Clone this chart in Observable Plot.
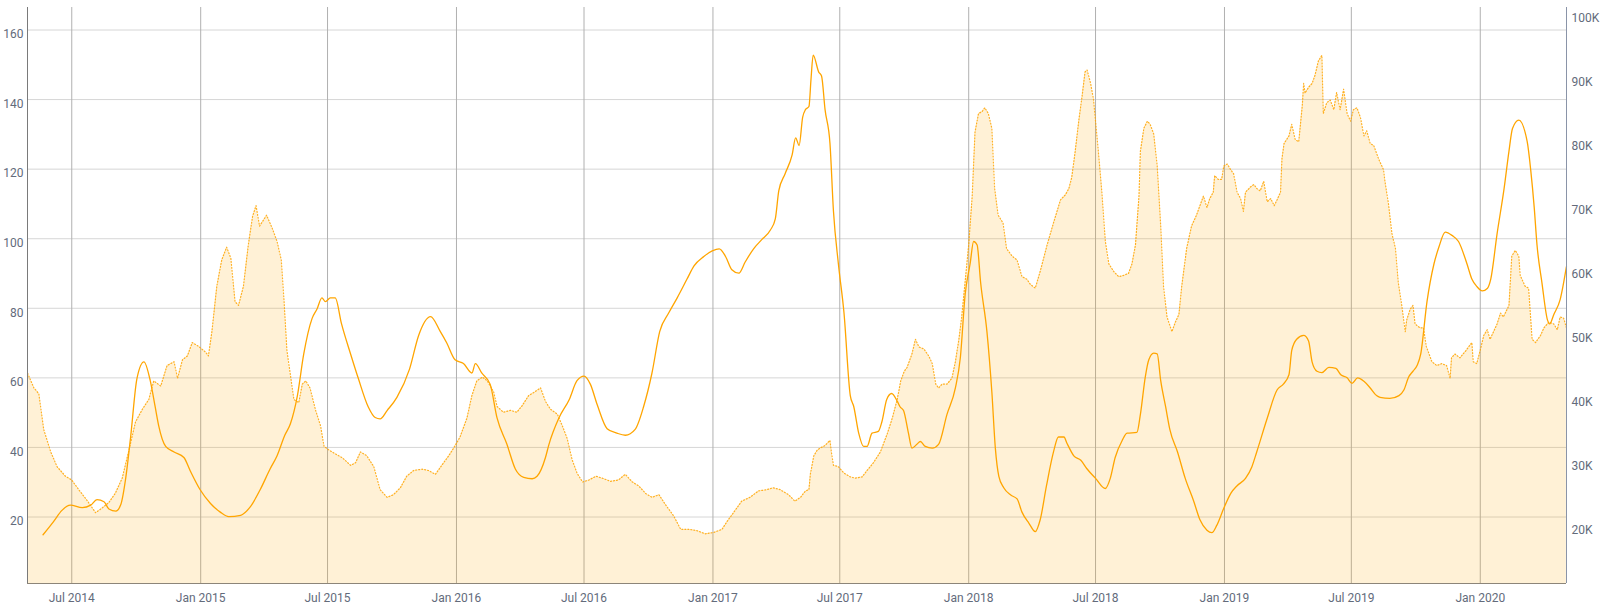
<!DOCTYPE html>
<html><head><meta charset="utf-8">
<script src="https://cdn.jsdelivr.net/npm/d3@7"></script>
<script src="https://cdn.jsdelivr.net/npm/@observablehq/plot@0.6"></script>
<style>html,body{margin:0;padding:0;background:#fff;} #chart svg{display:block}</style>
</head><body><div id="chart"></div>
<script>
// Solid line, left axis
const solidLine = [
["2014-05-21",14.9],["2014-06-05",18.7],["2014-06-17",21.9],["2014-06-29",23.4],["2014-07-16",22.7],["2014-07-28",23.4],
["2014-08-06",25.0],["2014-08-16",24.4],["2014-08-23",22.3],["2014-09-02",21.7],["2014-09-09",23.6],["2014-09-16",31.2],
["2014-09-23",43.0],["2014-10-02",59.8],["2014-10-12",64.6],["2014-10-21",59.2],["2014-10-28",51.7],["2014-11-02",46.3],
["2014-11-12",40.3],["2014-11-24",38.7],["2014-12-08",37.1],["2014-12-17",33.3],["2014-12-31",27.9],["2015-01-15",23.9],
["2015-01-29",21.4],["2015-02-10",20.1],["2015-02-27",20.5],["2015-03-13",23.0],["2015-03-27",27.9],["2015-04-10",33.8],
["2015-04-20",37.6],["2015-05-01",43.5],["2015-05-09",46.8],["2015-05-19",54.9],["2015-05-28",66.8],["2015-06-09",77.1],
["2015-06-16",79.8],["2015-06-23",83.0],["2015-06-28",81.9],["2015-07-05",83.0],["2015-07-12",83.0],["2015-07-21",75.5],
["2015-08-03",66.8],["2015-08-14",59.8],["2015-08-28",51.7],["2015-09-07",48.6],["2015-09-14",48.2],["2015-09-24",50.6],
["2015-10-08",54.4],["2015-10-26",62.5],["2015-11-08",72.2],["2015-11-25",77.6],["2015-12-09",73.3],["2015-12-18",70.1],
["2015-12-30",65.2],["2016-01-11",64.1],["2016-01-23",61.4],["2016-01-28",64.1],["2016-02-06",61.4],["2016-02-18",58.2],
["2016-02-28",48.4],["2016-03-13",40.9],["2016-03-25",33.8],["2016-04-06",31.4],["2016-04-18",31.0],["2016-04-25",31.7],
["2016-05-07",37.1],["2016-05-12",40.9],["2016-05-26",48.4],["2016-06-10",53.8],["2016-06-21",59.2],["2016-07-01",60.5],
["2016-07-10",58.2],["2016-07-20",52.2],["2016-08-03",45.4],["2016-08-17",44.1],["2016-08-29",43.5],["2016-09-12",45.2],
["2016-09-24",51.7],["2016-10-06",61.4],["2016-10-17",73.3],["2016-10-30",78.7],["2016-11-11",83.0],["2016-11-25",88.4],
["2016-12-05",92.2],["2016-12-19",94.9],["2016-12-31",96.5],["2017-01-10",97.1],["2017-01-19",94.9],["2017-01-28",91.1],
["2017-02-07",90.1],["2017-02-16",93.3],["2017-02-28",97.1],["2017-03-12",99.8],["2017-03-24",102.5],["2017-03-31",105.7],
["2017-04-05",113.8],["2017-04-14",118.7],["2017-04-24",124.1],["2017-04-29",129.0],["2017-05-04",126.8],["2017-05-09",134.9],
["2017-05-13",137.1],["2017-05-18",138.0],["2017-05-21",146.0],["2017-05-24",152.8],["2017-06-01",147.9],["2017-06-05",146.8],
["2017-06-10",137.1],["2017-06-17",127.4],["2017-06-22",107.9],["2017-06-29",92.8],["2017-07-07",78.7],["2017-07-16",54.9],
["2017-07-21",51.7],["2017-07-28",44.1],["2017-08-04",40.3],["2017-08-09",40.3],["2017-08-16",44.1],["2017-08-25",44.6],
["2017-08-30",47.3],["2017-09-06",53.8],["2017-09-13",55.5],["2017-09-21",53.3],["2017-09-25",51.7],["2017-09-30",50.6],
["2017-10-07",44.1],["2017-10-12",39.8],["2017-10-19",40.9],["2017-10-24",41.7],["2017-10-31",40.3],["2017-11-10",39.8],
["2017-11-19",40.9],["2017-12-01",49.5],["2017-12-13",57.1],["2017-12-20",65.7],["2017-12-27",84.1],["2018-01-03",92.8],
["2018-01-08",99.2],["2018-01-13",98.2],["2018-01-18",87.4],["2018-01-27",73.3],["2018-02-03",56.0],["2018-02-08",39.8],
["2018-02-13",31.7],["2018-02-20",28.4],["2018-03-02",26.3],["2018-03-11",25.2],["2018-03-18",21.4],["2018-03-28",18.2],
["2018-04-06",15.8],["2018-04-13",19.2],["2018-04-22",29.0],["2018-05-02",38.7],["2018-05-09",43.0],["2018-05-17",43.0],
["2018-05-21",41.3],["2018-05-31",37.6],["2018-06-10",36.3],["2018-06-19",33.8],["2018-07-01",31.1],["2018-07-15",28.2],
["2018-07-22",31.1],["2018-07-29",37.1],["2018-08-08",42.0],["2018-08-15",44.1],["2018-08-29",44.3],["2018-09-03",49.5],
["2018-09-10",60.3],["2018-09-15",65.2],["2018-09-22",67.1],["2018-09-27",66.9],["2018-10-02",59.2],["2018-10-09",51.7],
["2018-10-15",45.2],["2018-10-26",38.7],["2018-11-06",31.1],["2018-11-18",24.6],["2018-11-27",19.2],["2018-12-07",16.2],
["2018-12-14",15.5],["2018-12-21",17.6],["2018-12-31",22.5],["2019-01-10",26.8],["2019-01-19",29.0],["2019-01-31",31.1],
["2019-02-09",34.4],["2019-02-16",38.7],["2019-03-03",48.4],["2019-03-17",56.5],["2019-03-26",58.2],["2019-04-03",60.9],
["2019-04-07",67.9],["2019-04-14",71.1],["2019-04-24",72.2],["2019-05-01",70.6],["2019-05-06",64.6],["2019-05-13",61.9],
["2019-05-20",61.5],["2019-05-30",63.0],["2019-06-09",62.7],["2019-06-16",60.9],["2019-06-25",60.0],["2019-07-02",58.4],
["2019-07-10",60.0],["2019-07-19",59.0],["2019-07-28",57.1],["2019-08-06",54.9],["2019-08-11",54.4],["2019-08-25",54.1],
["2019-09-07",54.9],["2019-09-14",56.5],["2019-09-21",60.3],["2019-09-27",61.9],["2019-10-03",63.6],["2019-10-08",66.8],
["2019-10-17",81.9],["2019-10-27",92.8],["2019-11-03",97.6],["2019-11-12",101.9],["2019-11-22",100.9],["2019-12-01",99.2],
["2019-12-13",92.8],["2019-12-20",88.4],["2019-12-27",86.3],["2020-01-04",85.0],["2020-01-11",85.7],["2020-01-16",88.4],
["2020-01-25",101.4],["2020-02-04",114.4],["2020-02-11",125.2],["2020-02-16",131.7],["2020-02-25",134.1],["2020-03-08",127.9],
["2020-03-13",119.8],["2020-03-18",109.0],["2020-03-22",98.2],["2020-03-29",87.4],["2020-04-06",76.6],["2020-04-09",75.5],
["2020-04-15",78.2],["2020-04-24",82.5],["2020-05-03",92.0]
];

// Dotted filled area, right axis (thousands)
const dottedArea = [
["2014-04-29",43.8],["2014-05-08",41.5],["2014-05-15",40.6],["2014-05-22",35.0],["2014-06-01",31.5],["2014-06-10",29.2],
["2014-06-22",27.7],["2014-07-01",27.1],["2014-07-11",25.6],["2014-07-23",23.9],["2014-08-04",22.0],["2014-08-13",22.7],
["2014-08-23",23.6],["2014-09-01",25.0],["2014-09-11",27.4],["2014-09-20",31.5],["2014-09-30",36.2],["2014-10-10",38.2],
["2014-10-19",39.7],["2014-10-26",42.6],["2014-11-05",41.8],["2014-11-14",45.0],["2014-11-24",45.6],["2014-11-29",43.0],
["2014-12-06",45.9],["2014-12-13",46.5],["2014-12-20",48.6],["2014-12-29",48.0],["2015-01-08",47.1],["2015-01-12",46.5],
["2015-01-17",50.3],["2015-01-24",57.4],["2015-01-31",61.5],["2015-02-07",63.5],["2015-02-13",61.8],["2015-02-19",55.0],
["2015-02-24",54.4],["2015-03-03",57.4],["2015-03-10",63.9],["2015-03-16",68.3],["2015-03-21",70.0],["2015-03-26",66.8],
["2015-04-05",68.5],["2015-04-13",66.5],["2015-04-20",64.4],["2015-04-26",61.5],["2015-04-30",55.0],["2015-05-04",47.4],
["2015-05-14",39.7],["2015-05-21",39.2],["2015-05-26",42.1],["2015-05-31",42.6],["2015-06-06",41.5],["2015-06-14",38.0],
["2015-06-21",35.6],["2015-06-26",32.4],["2015-07-03",31.8],["2015-07-12",31.2],["2015-07-22",30.6],["2015-08-03",29.4],
["2015-08-10",29.8],["2015-08-17",31.5],["2015-08-26",30.9],["2015-09-05",29.2],["2015-09-14",25.6],["2015-09-24",24.4],
["2015-10-03",24.8],["2015-10-13",25.9],["2015-10-22",27.7],["2015-11-01",28.6],["2015-11-13",28.8],["2015-11-22",28.6],
["2015-12-02",28.0],["2015-12-11",29.4],["2015-12-21",30.9],["2015-12-28",32.1],["2016-01-06",33.8],["2016-01-16",36.8],
["2016-01-23",40.3],["2016-01-30",42.6],["2016-02-07",43.2],["2016-02-14",42.6],["2016-02-23",40.9],["2016-02-28",38.6],
["2016-03-08",37.7],["2016-03-18",38.0],["2016-03-27",37.7],["2016-04-03",38.6],["2016-04-13",40.3],["2016-04-22",40.9],
["2016-04-30",41.5],["2016-05-07",39.4],["2016-05-14",38.2],["2016-05-24",37.4],["2016-05-31",35.6],["2016-06-07",33.6],
["2016-06-14",30.3],["2016-06-21",28.2],["2016-06-29",26.8],["2016-07-08",27.1],["2016-07-18",27.7],["2016-07-27",27.4],
["2016-08-08",26.9],["2016-08-19",27.1],["2016-08-29",28.0],["2016-09-08",26.8],["2016-09-17",26.2],["2016-09-27",25.0],
["2016-10-06",24.4],["2016-10-16",24.8],["2016-10-25",23.3],["2016-11-06",21.5],["2016-11-16",19.4],["2016-11-28",19.4],
["2016-12-09",19.2],["2016-12-21",18.7],["2017-01-02",18.9],["2017-01-14",19.4],["2017-01-21",20.6],["2017-01-31",22.1],
["2017-02-11",23.8],["2017-02-23",24.4],["2017-03-07",25.4],["2017-03-19",25.6],["2017-03-28",25.9],["2017-04-07",25.6],
["2017-04-19",24.8],["2017-04-28",23.8],["2017-05-06",24.4],["2017-05-13",25.4],["2017-05-18",25.6],["2017-05-20",28.0],
["2017-05-25",30.9],["2017-05-30",31.8],["2017-06-03",32.1],["2017-06-10",32.5],["2017-06-17",33.3],["2017-06-19",31.5],
["2017-06-22",29.4],["2017-06-29",29.2],["2017-07-07",28.2],["2017-07-16",27.6],["2017-07-23",27.4],["2017-08-02",27.6],
["2017-08-09",28.6],["2017-08-18",29.8],["2017-08-28",31.5],["2017-09-07",34.4],["2017-09-14",36.8],["2017-09-21",39.7],
["2017-09-26",42.6],["2017-10-01",44.1],["2017-10-05",44.7],["2017-10-12",46.8],["2017-10-17",49.1],["2017-10-22",47.9],
["2017-10-29",47.6],["2017-11-05",46.5],["2017-11-10",45.3],["2017-11-15",42.1],["2017-11-19",41.5],["2017-11-24",42.1],
["2017-12-01",42.1],["2017-12-08",43.0],["2017-12-13",45.6],["2017-12-18",49.1],["2017-12-22",52.6],["2017-12-27",58.2],
["2018-01-01",63.9],["2018-01-06",71.5],["2018-01-10",81.5],["2018-01-15",84.4],["2018-01-20",84.7],["2018-01-24",85.3],
["2018-01-29",84.4],["2018-02-03",82.1],["2018-02-05",77.3],["2018-02-07",72.7],["2018-02-12",68.5],["2018-02-19",67.3],
["2018-02-24",63.3],["2018-03-04",62.1],["2018-03-11",61.5],["2018-03-18",58.9],["2018-03-25",58.5],["2018-03-30",57.7],
["2018-04-06",57.1],["2018-04-13",59.7],["2018-04-23",63.9],["2018-05-02",67.3],["2018-05-12",70.9],["2018-05-19",71.7],
["2018-05-24",72.7],["2018-05-28",74.4],["2018-06-02",78.5],["2018-06-07",83.2],["2018-06-12",87.3],["2018-06-16",90.9],
["2018-06-19",91.2],["2018-06-24",89.1],["2018-06-28",86.7],["2018-07-01",83.2],["2018-07-05",78.5],["2018-07-10",72.1],
["2018-07-15",64.4],["2018-07-20",60.9],["2018-07-27",59.7],["2018-08-03",58.9],["2018-08-10",59.1],["2018-08-17",59.4],
["2018-08-22",60.9],["2018-08-27",63.9],["2018-09-01",71.5],["2018-09-03",78.5],["2018-09-08",82.1],["2018-09-13",83.2],
["2018-09-17",82.7],["2018-09-22",81.2],["2018-09-27",76.2],["2018-10-02",66.8],["2018-10-06",57.4],["2018-10-11",52.6],
["2018-10-18",50.3],["2018-10-23",51.8],["2018-10-28",53.0],["2018-11-01",57.4],["2018-11-08",63.3],["2018-11-15",66.8],
["2018-11-22",68.5],["2018-11-27",70.0],["2018-12-02",71.5],["2018-12-07",69.7],["2018-12-11",71.1],["2018-12-16",72.1],
["2018-12-18",74.7],["2018-12-23",74.1],["2018-12-28",74.1],["2018-12-31",76.2],["2019-01-05",76.5],["2019-01-10",75.6],
["2019-01-14",75.0],["2019-01-19",72.1],["2019-01-24",71.1],["2019-01-28",69.1],["2019-01-31",72.1],["2019-02-07",72.9],
["2019-02-12",73.3],["2019-02-16",72.7],["2019-02-21",72.3],["2019-02-26",73.8],["2019-03-03",70.6],["2019-03-08",71.1],
["2019-03-13",70.0],["2019-03-17",70.9],["2019-03-22",72.1],["2019-03-24",77.3],["2019-03-27",79.7],["2019-04-03",80.9],
["2019-04-07",82.7],["2019-04-12",80.3],["2019-04-17",80.0],["2019-04-22",85.6],["2019-04-24",89.1],["2019-04-26",87.6],
["2019-05-01",88.5],["2019-05-06",89.1],["2019-05-10",90.3],["2019-05-15",92.6],["2019-05-20",93.5],["2019-05-22",84.4],
["2019-05-27",86.1],["2019-06-01",86.5],["2019-06-06",85.0],["2019-06-10",87.7],["2019-06-15",85.0],["2019-06-20",88.2],
["2019-06-25",84.4],["2019-06-30",83.2],["2019-07-04",85.0],["2019-07-09",85.3],["2019-07-14",83.8],["2019-07-19",80.9],
["2019-07-23",81.7],["2019-07-28",79.7],["2019-08-02",79.4],["2019-08-09",77.3],["2019-08-16",75.6],["2019-08-18",73.8],
["2019-08-23",70.3],["2019-08-28",65.6],["2019-09-02",63.3],["2019-09-06",58.0],["2019-09-11",54.4],["2019-09-16",50.3],
["2019-09-18",52.1],["2019-09-23",53.8],["2019-09-27",54.4],["2019-09-30",51.5],["2019-10-07",50.9],["2019-10-12",50.9],
["2019-10-16",48.0],["2019-10-24",45.6],["2019-10-31",45.0],["2019-11-07",45.3],["2019-11-14",45.0],["2019-11-19",43.0],
["2019-11-21",46.2],["2019-11-26",46.8],["2019-12-03",46.2],["2019-12-12",47.4],["2019-12-20",48.6],["2019-12-22",45.6],
["2019-12-27",45.3],["2020-01-01",47.4],["2020-01-06",49.7],["2020-01-11",50.6],["2020-01-15",49.1],["2020-01-20",50.3],
["2020-01-25",51.5],["2020-01-30",53.2],["2020-02-03",52.6],["2020-02-11",54.4],["2020-02-15",62.1],["2020-02-20",63.0],
["2020-02-25",62.1],["2020-02-27",59.1],["2020-03-05",57.4],["2020-03-10",57.1],["2020-03-15",49.1],["2020-03-20",48.6],
["2020-03-27",49.7],["2020-04-01",50.9],["2020-04-08",51.8],["2020-04-15",51.5],["2020-04-20",50.6],["2020-04-24",52.6],
["2020-04-29",52.4],["2020-05-03",50.9]
];

const leftTicks = [20, 40, 60, 80, 100, 120, 140, 160];
const rightTicks = [20, 30, 40, 50, 60, 70, 80, 90, 100];
const xTickLabels = ["2014-07-01","2015-01-01","2015-07-01","2016-01-01","2016-07-01","2017-01-01","2017-07-01",
  "2018-01-01","2018-07-01","2019-01-01","2019-07-01","2020-01-01"];

const parse = d3.utcParse("%Y-%m-%d");
const xDomain = [new Date(Date.UTC(2014, 3, 28, 20)), new Date(Date.UTC(2020, 4, 3, 2))];
const yDomain = [0.885, 166.47];
// right axis (K) expressed in left-axis units
const kToLeft = k => (k - 10.45) / 0.5438;
const leftToK = v => v * 0.5438 + 10.45;

const lineData = solidLine.map(([d, v]) => ({date: parse(d), v}));
const areaData = dottedArea.map(([d, k]) => ({date: parse(d), k, y: kToLeft(k)}));
const xTicks = xTickLabels.map(parse);
const fmt = d3.utcFormat("%b %Y");
const labelColor = "#636b7b";

const chart = Plot.plot({
  width: 1600, height: 607,
  marginLeft: 27, marginRight: 34, marginTop: 7, marginBottom: 24,
  style: {fontFamily: "Roboto, sans-serif", fontSize: "12px", background: "#fff", overflow: "visible"},
  x: {type: "utc", domain: xDomain},
  y: {domain: yDomain},
  marks: [
    Plot.gridY(leftTicks, {stroke: "#d6d6d6", strokeOpacity: 1}),
    Plot.gridX(xTicks, {stroke: "#b0b0b0", strokeOpacity: 1}),
    Plot.areaY(areaData, {x: "date", y1: () => yDomain[0], y2: "y", fill: "#ffa500", fillOpacity: 0.16}),
    Plot.lineY(areaData, {x: "date", y: "y", stroke: "#ffa500", strokeWidth: 1.2, strokeOpacity: 0.85, strokeDasharray: "1,2"}),
    Plot.lineY(lineData, {x: "date", y: "v", stroke: "#ffa500", strokeWidth: 1.3, curve: "monotone-x"}),
    Plot.ruleX([xDomain[0]], {stroke: "#7a7a7a"}),
    Plot.ruleX([xDomain[1]], {stroke: "#8a94a8"}),
    Plot.ruleY([yDomain[0]], {stroke: "#8c8579"}),
    Plot.axisY(leftTicks, {anchor: "left", tickSize: 0, tickPadding: 4, dy: 4.5, fill: labelColor, label: null}),
    Plot.axisY(rightTicks.map(kToLeft), {anchor: "right", tickSize: 0, tickPadding: 5, dy: 4.5, fill: labelColor,
      tickFormat: v => Math.round(leftToK(v)) + "K", label: null}),
    Plot.axisX(xTicks, {anchor: "bottom", tickSize: 0, tickPadding: 10, fill: labelColor, tickFormat: fmt, label: null})
  ]
});
document.getElementById("chart").appendChild(chart);
</script>
</body></html>
